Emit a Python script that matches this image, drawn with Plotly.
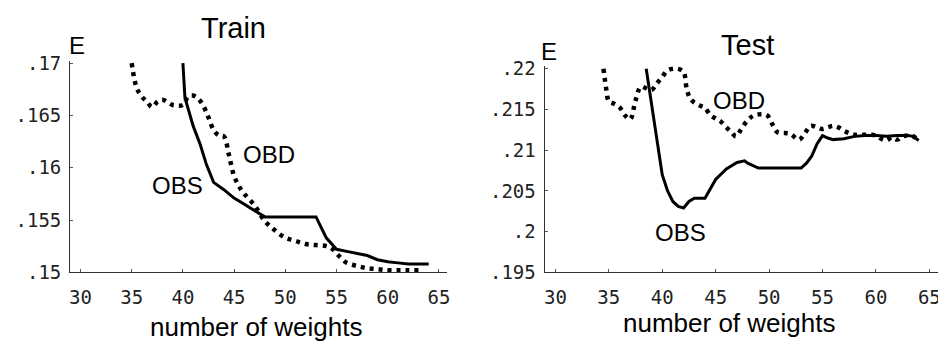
import plotly.graph_objects as go

# ---------------- data ----------------
train_obd_x = [35, 35.5, 36, 36.5, 37, 37.5, 38, 39, 40, 40.5, 41, 41.5, 42, 42.5, 43, 43.5, 44,
               44.5, 45, 45.5, 46, 47, 48, 49, 50, 51, 52, 53, 54, 54.5, 55, 55.5, 56, 57, 58,
               59, 60, 61, 62, 63]
train_obd_y = [.1700, .1676, .1668, .1663, .1658, .1663, .1665, .1660, .1660, .1668, .1669, .1666,
               .1659, .1648, .1636, .1631, .1630, .1612, .1592, .1582, .1575, .1564, .1549, .1540,
               .1533, .1530, .1527, .1526, .1525, .1523, .1518, .1513, .1509, .1506, .1504, .1503,
               .1502, .1502, .1502, .1502]

train_obs_x = [40, 40.2, 41, 41.7, 42.3, 43, 44, 45, 46, 47, 48, 49, 50, 51, 52, 53, 54, 55, 56,
               57, 58, 59, 60, 61, 62, 63, 64]
train_obs_y = [.1700, .1667, .1640, .1622, .1603, .1586, .1579, .1571, .1565, .1559, .1553, .1553,
               .1553, .1553, .1553, .1553, .1533, .1522, .1520, .1518, .1516, .1512, .1510, .1509,
               .1508, .1508, .1508]

test_obs_x = [38.5, 39, 39.5, 40, 40.5, 41, 41.5, 42, 42.5, 43, 44, 45, 46, 47, 47.7, 48, 49, 50,
              51, 52, 53, 53.5, 54, 54.5, 55, 55.5, 56, 57, 58, 59, 60, 61, 62, 63, 63.5, 64]
test_obs_y = [.2200, .2155, .2110, .2070, .2050, .2037, .2031, .2029, .2037, .2041, .2041, .2064,
              .2077, .2085, .2087, .2084, .2078, .2078, .2078, .2078, .2078, .2084, .2093, .2108,
              .2118, .2115, .2113, .2114, .2117, .2118, .2118, .2117, .2118, .2118, .2117, .2112]

test_obd_x = [34.5, 34.8, 35, 35.5, 36, 36.5, 37, 37.5, 38, 38.5, 39, 39.5, 40, 40.5, 41, 41.5, 42,
              42.3, 42.7, 43.5, 44, 44.5, 45, 45.5, 46, 46.5, 46.9, 47.4, 48, 48.5, 49, 49.8, 50.3,
              50.8, 51.5, 52, 52.8, 53.4, 53.9, 54.5, 55, 55.5, 56, 56.5, 57, 57.5, 58, 59, 60,
              60.5, 61, 61.5, 62, 62.5, 63, 63.5, 64]
test_obd_y = [.2200, .2172, .2160, .2157, .2153, .2143, .2138, .2161, .2178, .2176, .2174, .2182,
              .2190, .2198, .2200, .2200, .2196, .2175, .2162, .2155, .2152, .2143, .2139, .2135,
              .2128, .2122, .2117, .2126, .2137, .2142, .2144, .2143, .2132, .2122, .2121, .2120,
              .2113, .2122, .2130, .2128, .2126, .2128, .2130, .2128, .2124, .2121, .2119, .2119,
              .2118, .2114, .2112, .2116, .2113, .2117, .2118, .2117, .2111]

x_ticks = [30, 35, 40, 45, 50, 55, 60, 65]
train_y_ticks = [.15, .155, .16, .165, .17]
train_y_labels = [".15", ".155", ".16", ".165", ".17"]
test_y_ticks = [.195, .2, .205, .21, .215, .22]
test_y_labels = [".195", ".2", ".205", ".21", ".215", ".22"]

# ---------------- figure ----------------
# the page body has an 8px margin, so the figure is drawn 8px in from the window corner
OFF = 8
W, H = 946 - OFF, 353 - OFF
def pxx(p):  # window pixel from left -> paper x
    return (p - OFF) / W
def pxy(p):  # window pixel from top -> paper y
    return (H - (p - OFF)) / H

fig = go.Figure()
dot_style = dict(color="black", width=4.5, dash="4px,5px")
solid_style = dict(color="black", width=3)

fig.add_trace(go.Scatter(x=train_obd_x, y=train_obd_y, mode="lines", line=dot_style,
                         xaxis="x", yaxis="y", showlegend=False, line_shape="spline"))
fig.add_trace(go.Scatter(x=train_obs_x, y=train_obs_y, mode="lines", line=solid_style,
                         xaxis="x", yaxis="y", showlegend=False))
fig.add_trace(go.Scatter(x=test_obd_x, y=test_obd_y, mode="lines", line=dot_style,
                         xaxis="x2", yaxis="y2", showlegend=False, line_shape="spline"))
fig.add_trace(go.Scatter(x=test_obs_x, y=test_obs_y, mode="lines", line=solid_style,
                         xaxis="x2", yaxis="y2", showlegend=False))

tickfont = dict(family="DejaVu Sans Mono", size=19, color="#222")
axis_common = dict(showgrid=False, zeroline=False, showline=True, linecolor="#333",
                   linewidth=1.3, ticks="inside", ticklen=3, tickcolor="#555",
                   tickfont=tickfont)

fig.update_layout(
    width=W, height=H,
    margin=dict(l=0, r=0, t=0, b=0),
    paper_bgcolor="white", plot_bgcolor="white",
    xaxis=dict(domain=[pxx(69.5), pxx(448)], range=[29, 65.8], tickvals=x_ticks,
               ticklabelstandoff=8, anchor="y", **axis_common),
    yaxis=dict(domain=[pxy(279), pxy(54.8)], range=[.15, .1702], tickvals=train_y_ticks,
               ticktext=train_y_labels, ticklabelstandoff=4, anchor="x", **axis_common),
    xaxis2=dict(domain=[pxx(546), pxx(943)], range=[29, 66], tickvals=x_ticks,
                ticklabelstandoff=8, anchor="y2", **axis_common),
    yaxis2=dict(domain=[pxy(279), pxy(60.4)], range=[.195, .2203], tickvals=test_y_ticks,
                ticktext=test_y_labels, ticklabelstandoff=4, anchor="x2", **axis_common),
)

sans = "Liberation Sans"
ann = []
def txt(text, x, y, size, xref="paper", yref="paper"):
    ann.append(dict(text=text, x=x, y=y, xref=xref, yref=yref, showarrow=False,
                    xanchor="center", yanchor="middle",
                    font=dict(family=sans, size=size, color="black")))

txt("Train", pxx(233), pxy(20), 29)
txt("Test", pxx(750), pxy(38), 29)
txt("E", pxx(76), pxy(38), 24)
txt("E", pxx(550), pxy(45), 24)
txt("number of weights", pxx(256), pxy(337), 26)
txt("number of weights", pxx(731), pxy(333), 26)
txt("OBD", 48.4, .16126, 24, "x", "y")
txt("OBS", 39.5, .15829, 24, "x", "y")
txt("OBD", 47.2, .21607, 24, "x2", "y2")
txt("OBS", 41.75, .19986, 24, "x2", "y2")
fig.update_layout(annotations=ann)

fig.write_html("out.html")
